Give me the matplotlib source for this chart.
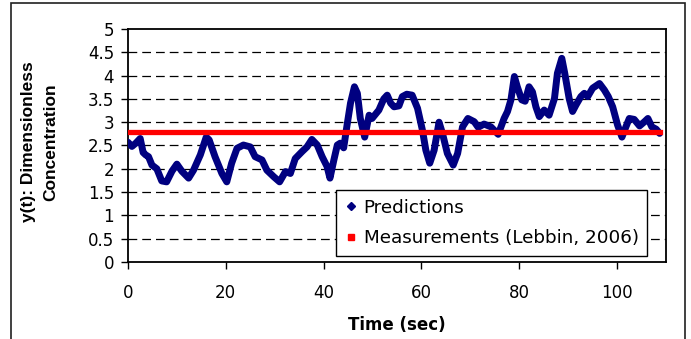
"""Predicted vs. measured dimensionless concentration over time."""

import matplotlib

matplotlib.use("Agg")
import matplotlib.pyplot as plt  # noqa: E402
from matplotlib.lines import Line2D  # noqa: E402
from matplotlib.patches import Rectangle  # noqa: E402

# model output, y(t) sampled along the run
pred_t = [
    0.0, 0.8, 1.6, 2.5, 3.1, 3.6, 4.2, 4.9, 5.9, 6.9, 7.9, 9.0, 10.0, 11.0,
    12.4, 13.4, 14.8, 16.0, 16.6, 17.8, 19.2, 20.2, 21.2, 22.3, 23.6, 25.0,
    26.0, 27.4, 28.4, 29.8, 31.0, 32.2, 33.2, 34.2, 35.6, 36.6, 37.6, 38.7,
    39.7, 40.7, 41.3, 42.1, 42.8, 43.4, 44.1, 44.8, 45.5, 46.3, 46.9, 47.5,
    48.4, 49.3, 49.9, 51.3, 52.3, 53.0, 53.7, 54.4, 55.4, 56.1, 57.0, 58.1,
    59.2, 60.2, 60.9, 61.7, 62.6, 63.6, 64.3, 65.3, 66.5, 67.4, 68.4, 69.5,
    70.8, 71.6, 72.8, 74.2, 75.7, 76.9, 77.6, 78.3, 79.0, 79.6, 80.5, 81.2,
    82.0, 82.7, 83.4, 84.1, 85.1, 86.1, 87.2, 87.8, 88.7, 89.3, 90.2, 90.9,
    91.6, 92.6, 93.3, 94.0, 95.0, 96.4, 97.4, 98.2, 99.1, 100.1, 101.0, 101.8,
    102.5, 103.5, 104.6, 105.6, 106.3, 107.1, 108.0, 108.7,
]
pred_y = [
    2.57, 2.48, 2.55, 2.65, 2.35, 2.30, 2.26, 2.08, 2.00, 1.74, 1.72, 1.95,
    2.10, 1.95, 1.80, 1.97, 2.30, 2.68, 2.62, 2.26, 1.90, 1.72, 2.12, 2.44,
    2.51, 2.47, 2.26, 2.19, 1.97, 1.83, 1.72, 1.94, 1.90, 2.22, 2.37, 2.47,
    2.63, 2.51, 2.26, 2.05, 1.80, 2.19, 2.51, 2.55, 2.45, 2.94, 3.41, 3.76,
    3.62, 3.08, 2.68, 3.15, 3.08, 3.26, 3.50, 3.58, 3.41, 3.33, 3.35, 3.55,
    3.60, 3.58, 3.30, 2.83, 2.40, 2.12, 2.40, 3.00, 2.76, 2.33, 2.08, 2.33,
    2.90, 3.08, 3.01, 2.89, 2.96, 2.90, 2.74, 3.08, 3.23, 3.48, 3.98, 3.76,
    3.48, 3.45, 3.76, 3.65, 3.33, 3.12, 3.26, 3.15, 3.51, 4.05, 4.37, 4.05,
    3.51, 3.23, 3.37, 3.55, 3.62, 3.55, 3.73, 3.83, 3.69, 3.55, 3.33, 2.94,
    2.68, 2.90, 3.08, 3.06, 2.92, 3.01, 3.08, 2.90, 2.85, 2.76,
]

# measured mean concentration (Lebbin, 2006), held over the whole run
meas_t = [0.0, 108.7]
meas_y = [2.78, 2.78]

x_ticks = [0, 20, 40, 60, 80, 100]
y_ticks = [0, 0.5, 1, 1.5, 2, 2.5, 3, 3.5, 4, 4.5, 5]

NAVY = "#000080"
RED = "#FF0000"
TICK_FONT = "DejaVu Sans"

fig = plt.figure(figsize=(6.91, 3.39), dpi=100)
ax = fig.add_axes([0.1852, 0.2271, 0.7786, 0.6874])

# outer chart frame (its lower edge runs off the bottom)
fig.patches.append(Rectangle((11 / 691, -0.1), 674 / 691, 1.1 - 3 / 339,
                             transform=fig.transFigure, fill=False,
                             edgecolor="#202020", linewidth=1.2))

ax.plot(pred_t, pred_y, color=NAVY, linewidth=5.0,
        solid_joinstyle="round", solid_capstyle="round", zorder=3)
ax.plot(meas_t, meas_y, color=RED, linewidth=3.8,
        solid_capstyle="projecting", zorder=4)

ax.set_xlim(0, 110)
ax.set_ylim(0, 5)
ax.set_xticks(x_ticks)
ax.set_yticks(y_ticks)
ax.set_yticklabels([f"{v:g}" for v in y_ticks])
ax.tick_params(direction="out", length=5, width=1, color="black",
               labelsize=12, pad=5)
ax.tick_params(axis="x", pad=11)
for lbl in ax.get_xticklabels() + ax.get_yticklabels():
    lbl.set_family(TICK_FONT)

for v in y_ticks[1:-1]:
    ax.axhline(v, color="black", linewidth=0.9, dashes=(7, 4), zorder=1)

for side in ("left", "right", "top", "bottom"):
    ax.spines[side].set_color("black")
    ax.spines[side].set_linewidth(1.3)

ax.set_xlabel("Time (sec)", fontsize=12, fontweight="bold",
              family=TICK_FONT, labelpad=10)
fig.text(40 / 691, 1 - 142 / 339, "y(t): Dimensionless\nConcentration",
         rotation=90, ha="center", va="center", multialignment="center",
         fontsize=12.5, fontweight="bold", family="Liberation Sans",
         linespacing=1.6)

handles = [
    Line2D([], [], linestyle="none", marker="D", markersize=4.5,
           color=NAVY, label="Predictions"),
    Line2D([], [], linestyle="none", marker="s", markersize=4.5,
           color=RED, label="Measurements (Lebbin, 2006)"),
]
leg = ax.legend(handles=handles, loc="center",
                bbox_to_anchor=(491.5 / 691, 1 - 223 / 339),
                bbox_transform=fig.transFigure,
                prop={"family": TICK_FONT, "size": 13.2},
                frameon=True, fancybox=False, shadow=False,
                borderpad=0.45, labelspacing=0.7, handlelength=0.7,
                handletextpad=0.35, borderaxespad=0)
leg.get_frame().set_edgecolor("black")
leg.get_frame().set_linewidth(1.0)
leg.get_frame().set_facecolor("white")
leg.get_frame().set_alpha(None)
leg.set_zorder(5)

fig.savefig("out.png", dpi=100)
